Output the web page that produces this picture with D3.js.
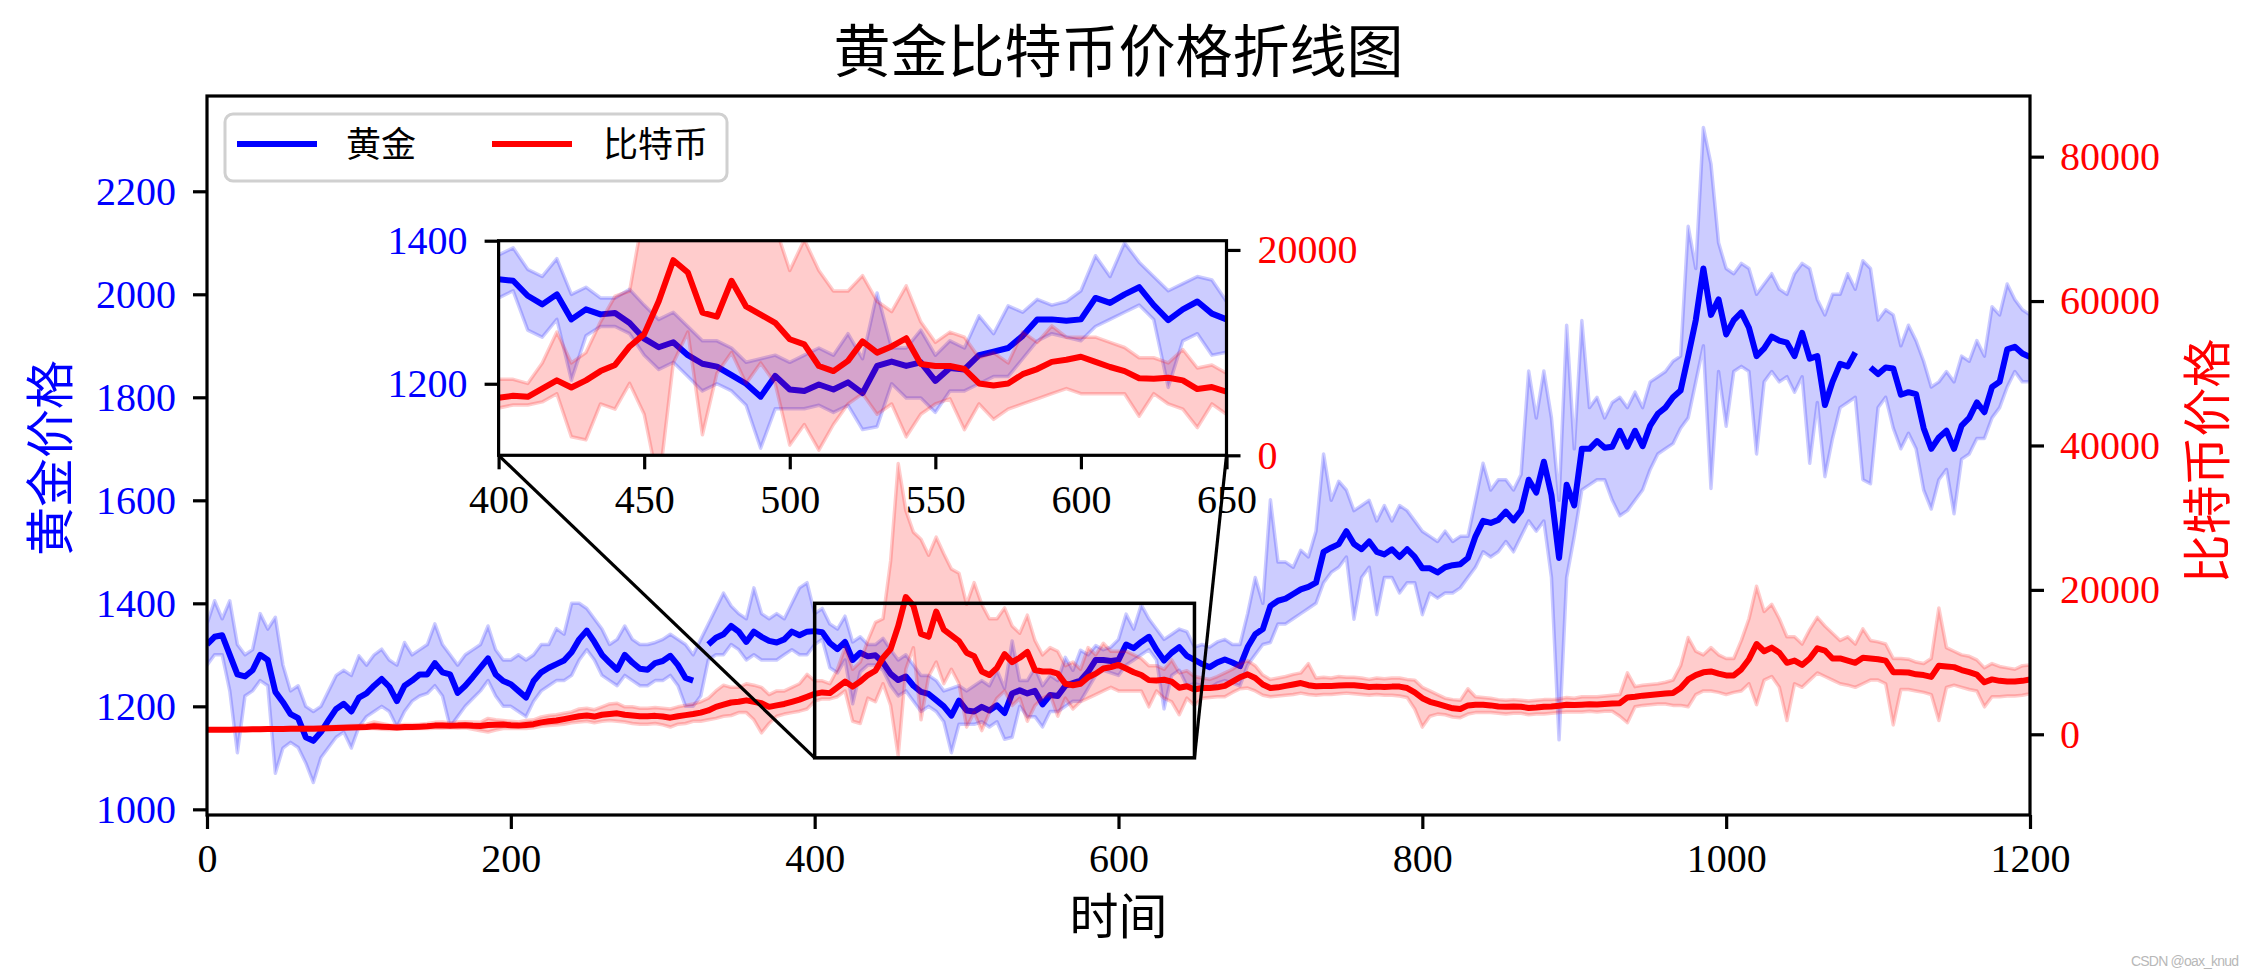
<!DOCTYPE html>
<html><head><meta charset="utf-8">
<script src="https://cdn.jsdelivr.net/npm/d3@7"></script>
<style>body{margin:0;background:#fff;} svg{display:block;}</style>
</head><body>
<svg id="c" width="2256" height="976"></svg>
<script>
// ---------------- DATA (sampled every 5 days, 0..1200) ----------------
const days = d3.range(0, 1201, 5);
const goldMid = [
1320,1335,1338,1300,1262,1258,1270,1300,1290,1228,
1208,1185,1177,1140,1133,1150,1173,1195,1205,1190,
1217,1225,1240,1253,1238,1210,1240,1250,1262,1262,
1284,1266,1262,1226,1240,1257,1275,1293,1262,1249,
1243,1230,1217,1249,1266,1275,1282,1289,1305,1330,
1347,1325,1300,1285,1271,1300,1285,1273,1271,1284,
1288,1298,1280,1255,1250,null,1320,1333,1340,1356,
1345,1325,1345,1335,1327,1324,1330,1345,1338,1345,
1346,1344,1323,1311,1325,1290,1304,1297,1299,1285,
1263,1251,1258,1240,1228,1224,1212,1200,1182,1211,
1192,1190,1199,1192,1202,1187,1225,1231,1225,1230,
1204,1222,1220,1240,1245,1250,1267,1290,1290,1288,
1290,1320,1313,1325,1335,1310,1289,1304,1315,1298,
1290,1282,1276,1285,1291,1285,1278,1315,1340,1350,
1395,1405,1409,1418,1427,1432,1440,1500,1508,1515,
1540,1515,1505,1520,1500,1495,1505,1490,1505,1490,
1468,1468,1460,1470,1474,1476,1488,1530,1560,1556,
1562,1578,1561,1580,1640,1615,1675,1610,1488,1630,
1590,1700,1700,1715,1702,1704,1735,1704,1735,1705,
1745,1768,1780,1800,1813,1880,1950,2050,1960,1990,
1922,1950,1965,1935,1880,1895,1918,1910,1906,1880,
1925,1875,1880,1785,1830,1865,1860,1887,null,1858,
1845,1858,1856,1805,1810,1806,1740,1700,1722,1735,
1700,1745,1760,1790,1771,1820,1830,1893,1898,1885,
1878];
const goldHi = [
1360,1405,1370,1405,1320,1300,1310,1380,1350,1373,
1280,1230,1240,1200,1190,1200,1230,1260,1270,1260,
1298,1280,1300,1311,1290,1280,1324,1300,1310,1320,
1360,1320,1300,1280,1300,1310,1320,1356,1310,1290,
1290,1300,1290,1300,1320,1320,1351,1340,1400,1400,
1390,1370,1350,1320,1330,1356,1330,1320,1320,1324,
1330,1340,1330,1320,1300,1330,1360,1390,1420,1395,
1380,1370,1430,1380,1370,1380,1370,1400,1430,1440,
1380,1390,1360,1350,1375,1325,1335,1320,1320,1332,
1310,1290,1300,1280,1260,1260,1250,1230,1235,1240,
1230,1240,1250,1240,1270,1235,1327,1250,1250,1275,
1240,1260,1250,1295,1270,1309,1300,1318,1310,1315,
1330,1379,1350,1397,1370,1350,1330,1340,1350,1345,
1315,1320,1315,1325,1330,1320,1320,1380,1450,1400,
1601,1480,1480,1470,1503,1490,1540,1690,1600,1637,
1620,1580,1590,1600,1560,1590,1560,1590,1580,1560,
1540,1530,1520,1540,1520,1530,1530,1600,1672,1620,
1640,1640,1620,1650,1851,1760,1851,1760,1600,1940,
1700,1949,1780,1800,1760,1790,1800,1780,1810,1780,
1830,1840,1850,1870,1880,2132,2050,2324,2253,2100,
2050,2040,2060,2050,2000,2020,2040,2010,2000,2040,
2060,2050,1990,1960,2000,2000,2040,2010,2065,2050,
1950,1970,1960,1900,1940,1910,1870,1820,1830,1850,
1830,1880,1870,1910,1880,1976,1960,2020,1990,1970,
1960];
const goldLo = [
1280,1300,1300,1230,1110,1220,1230,1250,1240,1070,
1119,1130,1120,1090,1052,1100,1120,1140,1150,1119,
1160,1180,1190,1200,1190,1160,1190,1210,1220,1225,
1240,1220,1160,1180,1200,1215,1230,1250,1220,1200,
1200,1190,1180,1210,1230,1240,1250,1250,1260,1290,
1310,1290,1260,1250,1240,1260,1250,1240,1240,1250,
1250,1260,1240,1200,1200,1220,1290,1300,1300,1320,
1310,1290,1300,1290,1290,1290,1300,1310,1300,1300,
1320,1330,1275,1265,1290,1205,1267,1280,1280,1270,
1240,1220,1230,1210,1190,1200,1190,1170,1110,1165,
1165,1165,1170,1160,1170,1136,1140,1200,1180,1180,
1160,1190,1190,1200,1210,1210,1235,1260,1270,1265,
1260,1280,1290,1300,1310,1290,1195,1260,1270,1240,
1244,1240,1235,1245,1250,1245,1240,1280,1300,1320,
1324,1360,1360,1370,1380,1390,1400,1440,1460,1470,
1490,1369,1450,1470,1378,1450,1450,1420,1440,1440,
1378,1420,1410,1420,1420,1430,1450,1470,1500,1490,
1500,1520,1500,1530,1560,1540,1560,1450,1135,1450,
1530,1620,1630,1640,1640,1600,1570,1580,1600,1620,
1660,1690,1700,1710,1740,1760,1830,1900,1623,1850,
1744,1850,1860,1850,1690,1830,1850,1830,1840,1810,
1840,1672,1790,1646,1720,1780,1790,1800,1640,1632,
1780,1800,1740,1700,1730,1700,1620,1583,1640,1660,
1574,1680,1690,1720,1720,1760,1780,1820,1850,1830,
1830];
const btcMid = [
620,625,630,640,650,660,680,700,720,730,
740,750,760,770,780,800,830,860,900,940,
980,1000,1100,1050,1000,950,1000,1020,1050,1100,
1200,1230,1180,1200,1250,1180,1150,1280,1320,1350,
1250,1200,1300,1400,1650,1800,1900,2100,2300,2500,
2600,2450,2700,2800,2900,2700,2600,2500,2500,2550,
2450,2300,2500,2650,2800,3000,3300,3800,4100,4400,
4500,4700,4500,4300,3800,4000,4200,4500,4800,5200,
5600,5800,5700,6500,7300,6600,7300,8200,8800,10600,
11800,15000,19000,17800,13900,13500,17000,14500,13700,12900,
11300,10800,8700,8200,9200,11100,10000,10600,11400,8900,
8700,8700,8400,7000,6800,7000,7900,8400,9100,9300,
9600,9100,8600,8200,7500,7450,7550,7300,6450,6650,
6200,6400,6400,6500,6700,7300,7900,8300,7800,6900,
6400,6500,6700,6900,7100,6800,6650,6700,6700,6750,
6800,6800,6700,6550,6600,6550,6600,6600,6400,5800,
5000,4500,4200,3900,3600,3500,4000,4100,4100,4000,
3850,3800,3850,3800,3650,3700,3800,3850,3950,4100,
4050,4100,4150,4130,4200,4250,4300,5100,5200,5350,
5450,5550,5650,5700,6400,7600,8200,8580,8700,8400,
8150,8150,9000,10400,12500,11500,12000,11300,9900,10200,
9600,10500,11900,11600,10500,10500,10200,9900,10600,10500,
10400,10200,8600,8600,8550,8300,8200,7950,9500,9400,
9300,8900,8600,8270,7200,7600,7400,7310,7300,7400,
7600];
const btcHi = [
750,760,770,780,800,810,830,860,880,900,
920,930,940,960,970,1000,1050,1100,1150,1200,
1250,1350,1700,1500,1300,1250,1350,1350,1400,1500,
1650,1700,1550,1700,1750,1700,1650,2200,2000,1900,
1800,1700,1900,2000,2400,2600,2700,2900,3100,3500,
3600,3400,3800,4200,4300,3800,3800,3600,3600,3700,
3600,3500,3800,4000,4200,4500,5000,6000,6800,6500,
6500,7000,6800,6500,5500,6000,6000,6500,7000,8300,
7400,7400,7000,9000,12000,9000,10000,13000,15500,16000,
24000,37500,31000,28000,27000,24800,27300,25000,22900,22300,
18000,21000,18000,16000,16000,17500,15000,14000,16500,13000,
11000,12000,11500,9500,10000,9000,12000,11000,12600,11500,
11500,11500,11000,10500,9500,9500,9000,10300,8500,8800,
8000,7800,7600,8000,8500,9000,9800,10200,9500,8200,
7600,7800,8000,8300,8500,9800,7800,7900,7800,8000,
7900,7900,7800,7600,7800,7700,7800,7800,7600,7500,
6500,6000,5500,5000,4800,4700,6300,5200,5100,5000,
4800,4700,4800,4700,4600,4700,4800,4800,4900,5100,
5000,5200,5200,5200,5300,5400,5500,8500,6600,6800,
6900,7000,7200,7500,9500,13400,11500,11000,12000,11000,
10500,10500,13000,16000,20500,17000,18000,16000,13500,13500,
12500,14500,16200,15000,14000,13000,13500,12500,14600,13000,
12800,12500,10500,10500,10400,10000,9800,10500,17500,12000,
11500,11000,10800,10300,9200,9800,9400,9200,9000,9500,
9600];
const btcLo = [
550,560,560,570,580,590,610,620,640,650,
650,660,670,680,680,700,710,740,760,800,
820,800,800,700,650,700,720,750,800,800,
850,850,900,850,900,700,500,300,600,800,
800,800,800,900,1100,1200,1300,1400,1600,1700,
1800,1600,1800,1900,1800,1700,1500,1400,1400,1500,
1300,1000,1400,1500,1800,1800,2000,2200,2500,2600,
3000,3000,2000,200,1500,2500,2800,3000,3200,3500,
4600,4900,4900,5200,6000,1800,1500,5000,4500,7000,
4000,-3000,9000,12000,2000,8000,10000,7000,9000,7000,
1000,3000,500,3000,5000,6000,4000,5000,1800,4000,
5000,5500,2500,5000,3500,4500,5000,5500,6000,6500,
6000,6000,6000,6000,3800,6000,5000,4500,2700,5000,
4000,5000,5100,5200,5200,5800,6300,6400,6000,5400,
5200,5300,5400,5500,5700,5500,5400,5500,5500,5600,
5700,5600,5500,5400,5500,5400,5400,5300,5100,3500,
1000,2500,2800,2700,2400,2300,2800,3000,3000,3000,
2900,2800,2900,2900,2700,2800,2800,2900,3000,3100,
3100,3100,3200,3100,3200,3200,2500,1600,3800,4000,
4100,4200,4200,4000,4000,3800,5500,6000,6000,5800,
5500,5800,6000,7000,4100,7500,8000,6500,1900,7000,
6500,7500,8500,8000,7500,7000,6800,6500,7000,7500,
7500,7000,1300,6200,6200,6000,5800,5500,1900,6500,
6800,6500,6200,6000,3800,5200,5200,5300,5300,5400,
5600];

const mainXTicks = [0,200,400,600,800,1000,1200];
const goldTicks = [1000,1200,1400,1600,1800,2000,2200];
const btcTicks = [0,20000,40000,60000,80000];
const insetXTicks = [400,450,500,550,600,650];
const insetGoldTicks = [1200,1400];
const insetBtcTicks = [0,20000];
const zoomRange = {x0:400, x1:650, y0:1100, y1:1400};
const labels = {title:"黄金比特币价格折线图", x:"时间", yl:"黄金价格", yr:"比特币价格", gold:"黄金", btc:"比特币"};

// ---------------- LAYOUT ----------------
const BLUE = "#0000ff", RED = "#ff0000";
const NUMF = '"Liberation Serif","Times New Roman",serif';
const CJKF = '"Noto Sans CJK SC","Noto Sans",sans-serif';
const M = {l:207, r:2030, t:96, b:815};
const I = {l:498.6, r:1226.5, t:240.7, b:455.3};

const x   = d3.scaleLinear([0,1200],[M.l,M.r]);
const yG  = d3.scaleLinear([989,2385],[M.b,M.t]);
const yB  = d3.scaleLinear([-11180,88400],[M.b,M.t]);
const xi  = d3.scaleLinear([400,650],[I.l,I.r]);
const yGi = d3.scaleLinear([1100,1400],[I.b,I.t]);
const yBi = d3.scaleLinear([0,20900],[I.b,I.t]);

const rows = days.map((d,i)=>({d, g:goldMid[i], gh:goldHi[i], gl:goldLo[i], b:btcMid[i], bh:btcHi[i], bl:btcLo[i]}));

const svg = d3.select('#c');
svg.append('rect').attr('width',2256).attr('height',976).attr('fill','#fff');
const defs = svg.append('defs');
defs.append('clipPath').attr('id','clipM').append('rect').attr('x',M.l).attr('y',M.t).attr('width',M.r-M.l).attr('height',M.b-M.t);
defs.append('clipPath').attr('id','clipI').append('rect').attr('x',I.l).attr('y',I.t).attr('width',I.r-I.l).attr('height',I.b-I.t);

function drawSeries(g, xs, ys, k, hk, lk, color, lw) {
  const area = d3.area().defined(r=>r[hk]!=null && r[lk]!=null)
    .x(r=>xs(r.d)).y0(r=>ys(r[lk])).y1(r=>ys(r[hk]));
  g.append('path').attr('d', area(rows)).attr('fill', color).attr('fill-opacity',0.2)
    .attr('stroke', color).attr('stroke-opacity',0.2).attr('stroke-width',3.5).attr('stroke-linejoin','round');
  const line = d3.line().defined(r=>r[k]!=null).x(r=>xs(r.d)).y(r=>ys(r[k]));
  g.append('path').attr('d', line(rows)).attr('fill','none').attr('stroke', color)
    .attr('stroke-width', lw).attr('stroke-linejoin','round');
}

function styleAxis(g, color) {
  g.select('.domain').remove();
  g.attr('font-family', NUMF).attr('font-size', 40);
  g.selectAll('.tick line').attr('stroke','#000').attr('stroke-width',3.2);
  g.selectAll('.tick text').attr('fill', color);
}

// main series
const gm = svg.append('g').attr('clip-path','url(#clipM)');
drawSeries(gm, x, yG, 'g','gh','gl', BLUE, 6);
drawSeries(gm, x, yB, 'b','bh','bl', RED, 6);

// main axes
const fmt = d3.format('d');
styleAxis(svg.append('g').attr('transform',`translate(0,${M.b})`)
  .call(d3.axisBottom(x).tickValues(mainXTicks).tickFormat(fmt).tickSize(14).tickPadding(15).tickSizeOuter(0)), '#000');
styleAxis(svg.append('g').attr('transform',`translate(${M.l},0)`)
  .call(d3.axisLeft(yG).tickValues(goldTicks).tickFormat(fmt).tickSize(14).tickPadding(17).tickSizeOuter(0)), BLUE);
styleAxis(svg.append('g').attr('transform',`translate(${M.r},0)`)
  .call(d3.axisRight(yB).tickValues(btcTicks).tickFormat(fmt).tickSize(14).tickPadding(16).tickSizeOuter(0)), RED);
svg.append('rect').attr('x',M.l).attr('y',M.t).attr('width',M.r-M.l).attr('height',M.b-M.t)
  .attr('fill','none').attr('stroke','#000').attr('stroke-width',3.2);

// zoom rectangle + connectors
const rx0 = x(zoomRange.x0), rx1 = x(zoomRange.x1), ry0 = yG(zoomRange.y0), ry1 = yG(zoomRange.y1);
svg.append('rect').attr('x',rx0).attr('y',ry1).attr('width',rx1-rx0).attr('height',ry0-ry1)
  .attr('fill','none').attr('stroke','#000').attr('stroke-width',3.5);
svg.append('line').attr('x1',I.l).attr('y1',I.b).attr('x2',rx0).attr('y2',ry0).attr('stroke','#000').attr('stroke-width',3.2);
svg.append('line').attr('x1',I.r).attr('y1',I.b).attr('x2',rx1).attr('y2',ry0).attr('stroke','#000').attr('stroke-width',3.2);

// inset
svg.append('rect').attr('x',I.l).attr('y',I.t).attr('width',I.r-I.l).attr('height',I.b-I.t).attr('fill','#fff');
const gi = svg.append('g').attr('clip-path','url(#clipI)');
drawSeries(gi, xi, yGi, 'g','gh','gl', BLUE, 6);
drawSeries(gi, xi, yBi, 'b','bh','bl', RED, 6);
styleAxis(svg.append('g').attr('transform',`translate(0,${I.b})`)
  .call(d3.axisBottom(xi).tickValues(insetXTicks).tickFormat(fmt).tickSize(14).tickPadding(15).tickSizeOuter(0)), '#000');
styleAxis(svg.append('g').attr('transform',`translate(${I.l},0)`)
  .call(d3.axisLeft(yGi).tickValues(insetGoldTicks).tickFormat(fmt).tickSize(14).tickPadding(17).tickSizeOuter(0)), BLUE);
styleAxis(svg.append('g').attr('transform',`translate(${I.r},0)`)
  .call(d3.axisRight(yBi).tickValues(insetBtcTicks).tickFormat(fmt).tickSize(14).tickPadding(17).tickSizeOuter(0)), RED);
svg.append('rect').attr('x',I.l).attr('y',I.t).attr('width',I.r-I.l).attr('height',I.b-I.t)
  .attr('fill','none').attr('stroke','#000').attr('stroke-width',3.2);

// legend
const lg = svg.append('g');
lg.append('rect').attr('x',225).attr('y',114).attr('width',502).attr('height',67).attr('rx',8)
  .attr('fill','#fff').attr('fill-opacity',0.8).attr('stroke','#d0d0d0').attr('stroke-width',3);
lg.append('line').attr('x1',237).attr('x2',317).attr('y1',144).attr('y2',144).attr('stroke',BLUE).attr('stroke-width',6);
lg.append('line').attr('x1',492).attr('x2',572).attr('y1',144).attr('y2',144).attr('stroke',RED).attr('stroke-width',6);
lg.append('text').attr('x',346).attr('y',157).attr('font-family',CJKF).attr('font-size',35).attr('fill','#000').text(labels.gold);
lg.append('text').attr('x',603).attr('y',157).attr('font-family',CJKF).attr('font-size',35).attr('fill','#000').text(labels.btc);

// titles
svg.append('text').attr('x',(M.l+M.r)/2).attr('y',72).attr('text-anchor','middle')
  .attr('font-family',CJKF).attr('font-size',57).attr('fill','#000').text(labels.title);
svg.append('text').attr('x',(M.l+M.r)/2).attr('y',934).attr('text-anchor','middle')
  .attr('font-family',CJKF).attr('font-size',49).attr('fill','#000').text(labels.x);
svg.append('text').attr('transform','translate(68,458) rotate(-90)').attr('text-anchor','middle')
  .attr('font-family',CJKF).attr('font-size',49).attr('fill',BLUE).text(labels.yl);
svg.append('text').attr('transform','translate(2225,461) rotate(-90)').attr('text-anchor','middle')
  .attr('font-family',CJKF).attr('font-size',49).attr('fill',RED).text(labels.yr);

// watermark
svg.append('text').attr('x',2239).attr('y',966).attr('text-anchor','end')
  .attr('font-family','"Liberation Sans",sans-serif').attr('font-size',14).attr('fill','#b8b8b8')
  .attr('textLength',108).text('CSDN @oax_knud');
</script>
</body></html>
